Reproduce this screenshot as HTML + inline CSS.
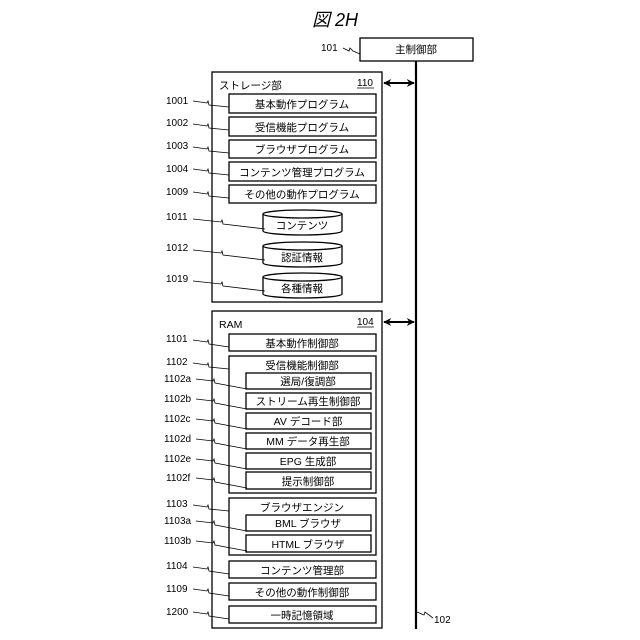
<!DOCTYPE html>
<html><head><meta charset="utf-8"><style>
html,body{margin:0;padding:0;background:#fff}
svg{display:block}
text{font-family:"Liberation Sans","Noto Sans CJK JP",sans-serif;fill:#000}
.b{font-size:10.5px}
.l{font-size:10px}
</style></head><body>
<svg width="640" height="640" viewBox="0 0 640 640" xmlns="http://www.w3.org/2000/svg">
<defs>
<marker id="ah" viewBox="0 0 10 10" refX="9" refY="5" markerUnits="userSpaceOnUse" markerWidth="8" markerHeight="8" orient="auto-start-reverse"><path d="M0,0 L10,5 L0,10 L3,5 z" fill="#000"/></marker>
</defs>
<text x="312" y="26" style="font-size:18px;font-style:italic">図 2H</text>
<g fill="none" stroke="#000" stroke-width="1.3">
<rect x="360" y="38" width="113" height="23" fill="#fff"/>
<line x1="416" y1="61" x2="416" y2="629" stroke-width="2.2"/>
<rect x="212" y="72" width="170" height="230"/>
<line x1="384" y1="83" x2="414" y2="83" stroke-width="2" marker-start="url(#ah)" marker-end="url(#ah)"/>
<rect x="229" y="94" width="147" height="19"/>
<rect x="229" y="117" width="147" height="19"/>
<rect x="229" y="140" width="147" height="18"/>
<rect x="229" y="162" width="147" height="19"/>
<rect x="229" y="185" width="147" height="18"/>
<g>
<path d="M263,214 v17 a39.5,4 0 0 0 79,0 v-17"/><ellipse cx="302.5" cy="214" rx="39.5" ry="4"/>
<path d="M263,246 v17 a39.5,4 0 0 0 79,0 v-17"/><ellipse cx="302.5" cy="246" rx="39.5" ry="4"/>
<path d="M263,277 v17 a39.5,4 0 0 0 79,0 v-17"/><ellipse cx="302.5" cy="277" rx="39.5" ry="4"/>
</g>
<rect x="212" y="311" width="170" height="317"/>
<line x1="384" y1="322" x2="414" y2="322" stroke-width="2" marker-start="url(#ah)" marker-end="url(#ah)"/>
<rect x="229" y="334" width="147" height="17"/>
<rect x="229" y="356" width="147" height="137"/>
<rect x="246" y="373" width="125" height="16"/>
<rect x="246" y="393" width="125" height="16"/>
<rect x="246" y="413" width="125" height="16"/>
<rect x="246" y="433" width="125" height="16"/>
<rect x="246" y="453" width="125" height="16"/>
<rect x="246" y="472" width="125" height="17"/>
<rect x="229" y="498" width="147" height="57"/>
<rect x="246" y="515" width="125" height="16"/>
<rect x="246" y="535" width="125" height="17"/>
<rect x="229" y="561" width="147" height="17"/>
<rect x="229" y="583" width="147" height="17"/>
<rect x="229" y="606" width="147" height="17"/>
</g>
<g fill="none" stroke="#000" stroke-width="0.8">
<path d="M343,48 l6,3 l1,-3 l3,3 l7,3"/>
<path d="M193,101 l14,2 l1,-2 l1,4 l20,2"/>
<path d="M193,124 l14,2 l1,-2 l1,4 l20,2"/>
<path d="M193,147 l14,2 l1,-2 l1,4 l20,2"/>
<path d="M193,169 l14,2 l1,-2 l1,4 l20,2"/>
<path d="M193,192 l14,2 l1,-2 l1,4 l20,2"/>
<path d="M193,219 l28,3 l1,-2 l1,4 l42,5"/>
<path d="M193,250 l28,3 l1,-2 l1,4 l42,5"/>
<path d="M193,281 l28,3 l1,-2 l1,4 l42,5"/>
<path d="M193,340 l14,2 l1,-2 l1,4 l20,3"/>
<path d="M193,363 l14,2 l1,-2 l1,4 l20,2"/>
<path d="M196,379 l17,2 l1,-2 l1,4 l32,6"/>
<path d="M196,399 l17,2 l1,-2 l1,4 l32,6"/>
<path d="M196,419 l17,2 l1,-2 l1,4 l32,6"/>
<path d="M196,439 l17,2 l1,-2 l1,4 l32,6"/>
<path d="M196,459 l17,2 l1,-2 l1,4 l32,6"/>
<path d="M196,478 l17,2 l1,-2 l1,4 l32,6"/>
<path d="M193,505 l14,2 l1,-2 l1,4 l20,2"/>
<path d="M196,521 l17,2 l1,-2 l1,4 l32,6"/>
<path d="M196,541 l17,2 l1,-2 l1,4 l32,6"/>
<path d="M193,567 l14,2 l1,-2 l1,4 l20,3"/>
<path d="M193,589 l14,2 l1,-2 l1,4 l20,3"/>
<path d="M193,612 l14,2 l1,-2 l1,4 l20,3"/>
<path d="M417,612 l7,3 l1,-3 l8,6"/>
</g>
<g class="b" text-anchor="middle">
<text x="416" y="53">主制御部</text>
<text x="302" y="108">基本動作プログラム</text>
<text x="302" y="131">受信機能プログラム</text>
<text x="302" y="153">ブラウザプログラム</text>
<text x="302" y="176">コンテンツ管理プログラム</text>
<text x="302" y="198">その他の動作プログラム</text>
<text x="302" y="229">コンテンツ</text>
<text x="302" y="261">認証情報</text>
<text x="302" y="292">各種情報</text>
<text x="302" y="347">基本動作制御部</text>
<text x="302" y="369">受信機能制御部</text>
<text x="308" y="385">選局/復調部</text>
<text x="308" y="405">ストリーム再生制御部</text>
<text x="308" y="425">AV デコード部</text>
<text x="308" y="445">MM データ再生部</text>
<text x="308" y="465">EPG 生成部</text>
<text x="308" y="485">提示制御部</text>
<text x="302" y="511">ブラウザエンジン</text>
<text x="308" y="527">BML ブラウザ</text>
<text x="308" y="548">HTML ブラウザ</text>
<text x="302" y="574">コンテンツ管理部</text>
<text x="302" y="596">その他の動作制御部</text>
<text x="302" y="619">一時記憶領域</text>
</g>
<text class="b" x="219" y="89">ストレージ部</text>
<text class="b" x="219" y="328">RAM</text>
<text class="l" x="357" y="86">110</text>
<text class="l" x="357" y="325">104</text>
<line x1="357" y1="88" x2="374" y2="88" stroke="#000" stroke-width="0.8"/>
<line x1="357" y1="327" x2="374" y2="327" stroke="#000" stroke-width="0.8"/>
<g class="l">
<text x="321" y="51">101</text>
<text x="166" y="104">1001</text>
<text x="166" y="126">1002</text>
<text x="166" y="149">1003</text>
<text x="166" y="172">1004</text>
<text x="166" y="195">1009</text>
<text x="166" y="220">1011</text>
<text x="166" y="251">1012</text>
<text x="166" y="282">1019</text>
<text x="166" y="342">1101</text>
<text x="166" y="365">1102</text>
<text x="164" y="382">1102a</text>
<text x="164" y="402">1102b</text>
<text x="164" y="422">1102c</text>
<text x="164" y="442">1102d</text>
<text x="164" y="462">1102e</text>
<text x="166" y="481">1102f</text>
<text x="166" y="507">1103</text>
<text x="164" y="524">1103a</text>
<text x="164" y="544">1103b</text>
<text x="166" y="569">1104</text>
<text x="166" y="592">1109</text>
<text x="166" y="615">1200</text>
<text x="434" y="623">102</text>
</g>
</svg>
</body></html>
